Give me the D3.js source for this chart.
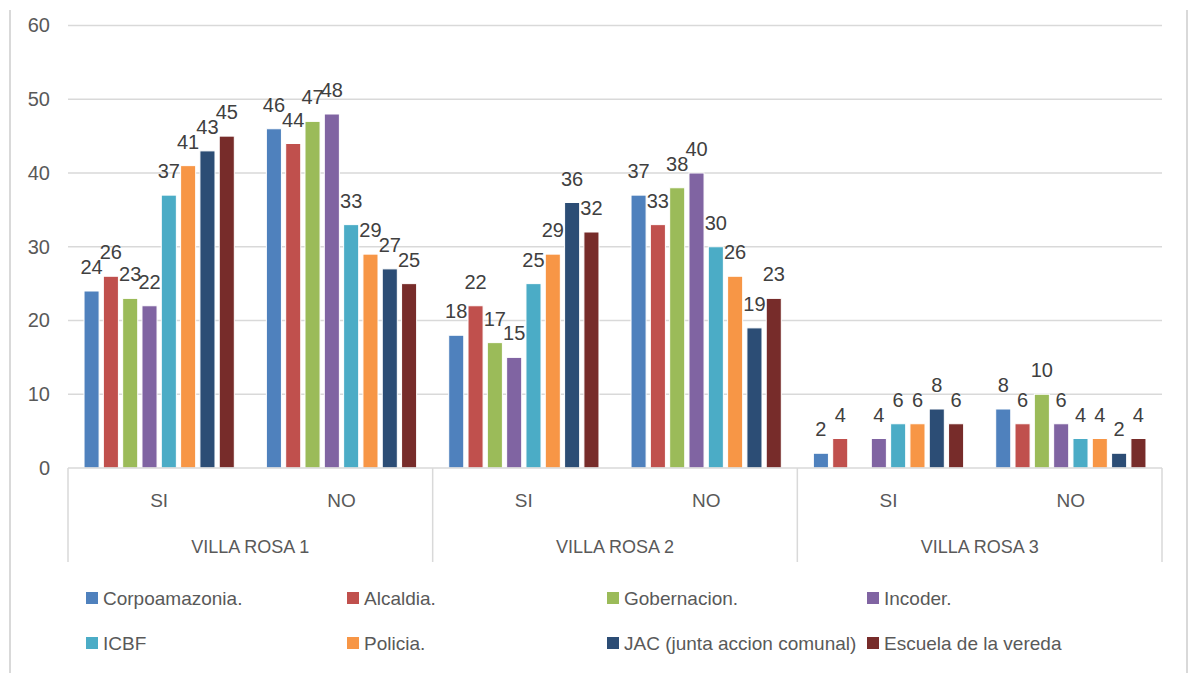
<!DOCTYPE html>
<html>
<head>
<meta charset="utf-8">
<script src="https://cdn.jsdelivr.net/npm/d3@7"></script>
<style>
  html, body { margin: 0; padding: 0; background: #ffffff; }
  svg { display: block; font-family: "Liberation Sans", Arial, sans-serif; }
</style>
</head>
<body>
<svg id="chart" width="1189" height="673"></svg>
<script>
// ---- data ----
const groups = ["VILLA ROSA 1", "VILLA ROSA 2", "VILLA ROSA 3"];
const answers = ["SI", "NO"];
const seriesNames = ["Corpoamazonia.", "Alcaldia.", "Gobernacion.", "Incoder.", "ICBF", "Policia.", "JAC (junta accion comunal)", "Escuela de la vereda"];
const seriesColors = ["#4F81BD", "#C0504D", "#9BBB59", "#8064A2", "#4BACC6", "#F79646", "#2C4D75", "#772C2A"];
// values per series, order: VR1 SI, VR1 NO, VR2 SI, VR2 NO, VR3 SI, VR3 NO
const corpoamazonia = [24, 46, 18, 37, 2, 8];
const alcaldia      = [26, 44, 22, 33, 4, 6];
const gobernacion   = [23, 47, 17, 38, 0, 10];
const incoder       = [22, 48, 15, 40, 4, 6];
const icbf          = [37, 33, 25, 30, 6, 4];
const policia       = [41, 29, 29, 26, 6, 4];
const jac           = [43, 27, 36, 19, 8, 2];
const escuela       = [45, 25, 32, 23, 6, 4];
const yTicks = [0, 10, 20, 30, 40, 50, 60];

const seriesValues = [corpoamazonia, alcaldia, gobernacion, incoder, icbf, policia, jac, escuela];

// ---- layout ----
const svg = d3.select("#chart");
const plot = { left: 68, right: 1162, top: 25.5, bottom: 468 };
const gridColor = "#d9d9d9";
const textColor = "#595959";

const y = d3.scaleLinear().domain([0, 60]).range([plot.bottom, plot.top]);

const cats = [];
groups.forEach(g => answers.forEach(a => cats.push(g + "|" + a)));

const xGroup = d3.scaleBand().domain(groups).range([plot.left, plot.right]).padding(0);
const xCat = d3.scaleBand().domain(cats).range([plot.left, plot.right]).padding(0);
const xSeries = d3.scaleBand().domain(seriesNames)
  .range([0, xCat.bandwidth()]).paddingInner(0.22).paddingOuter(0.83);

// outer frame (left/right)
svg.append("line").attr("x1", 10).attr("x2", 10).attr("y1", 10).attr("y2", 673)
  .attr("stroke", "#d9d9d9").attr("stroke-width", 2);
svg.append("line").attr("x1", 1187).attr("x2", 1187).attr("y1", 10).attr("y2", 673)
  .attr("stroke", "#d9d9d9").attr("stroke-width", 2);

// gridlines
svg.append("g").selectAll("line").data(yTicks.filter(d => d > 0)).join("line")
  .attr("x1", plot.left).attr("x2", plot.right)
  .attr("y1", d => y(d)).attr("y2", d => y(d))
  .attr("stroke", gridColor).attr("stroke-width", 1.5);

// y axis labels
const yAxis = d3.axisLeft(y).tickValues(yTicks).tickSize(0).tickPadding(0);
const yg = svg.append("g").attr("transform", `translate(50,0)`).call(yAxis);
yg.select(".domain").remove();
yg.selectAll("text").attr("fill", textColor).attr("font-size", 20)
  .attr("font-family", "'Liberation Sans', Arial, sans-serif");

// bars
const flat = [];
seriesValues.forEach((vals, si) => {
  vals.forEach((v, ci) => flat.push({ s: seriesNames[si], si, cat: cats[ci], v }));
});

svg.append("g").selectAll("rect").data(flat.filter(d => d.v > 0)).join("rect")
  .attr("x", d => xCat(d.cat) + xSeries(d.s))
  .attr("width", xSeries.bandwidth())
  .attr("y", d => y(d.v))
  .attr("height", d => y(0) - y(d.v))
  .attr("fill", d => seriesColors[d.si])
  .attr("stroke", "#ffffff").attr("stroke-width", 1);

// data labels
svg.append("g").selectAll("text").data(flat.filter(d => d.v > 0)).join("text")
  .attr("x", d => xCat(d.cat) + xSeries(d.s) + xSeries.bandwidth() / 2)
  .attr("y", d => y(d.v) - 24)
  .attr("text-anchor", "middle").attr("dominant-baseline", "central")
  .attr("font-size", 20).attr("fill", "#404040")
  .text(d => d.v);

// category axis line
svg.append("line").attr("x1", plot.left).attr("x2", plot.right)
  .attr("y1", plot.bottom).attr("y2", plot.bottom)
  .attr("stroke", gridColor).attr("stroke-width", 1.5);

// group separators
const seps = groups.map(g => xGroup(g)).concat([plot.right]);
svg.append("g").selectAll("line").data(seps).join("line")
  .attr("x1", d => d).attr("x2", d => d)
  .attr("y1", plot.bottom).attr("y2", 562)
  .attr("stroke", gridColor).attr("stroke-width", 1.5);

// SI/NO labels
svg.append("g").selectAll("text").data(cats).join("text")
  .attr("x", d => xCat(d) + xCat.bandwidth() / 2)
  .attr("y", 500)
  .attr("text-anchor", "middle").attr("dominant-baseline", "central")
  .attr("font-size", 19).attr("fill", textColor)
  .text(d => d.split("|")[1]);

// group labels
svg.append("g").selectAll("text").data(groups).join("text")
  .attr("x", d => xGroup(d) + xGroup.bandwidth() / 2)
  .attr("y", 547)
  .attr("text-anchor", "middle").attr("dominant-baseline", "central")
  .attr("font-size", 18).attr("fill", textColor)
  .text(d => d);

// legend
const legX = [86, 347, 607, 867];
const legY = [598, 643];
const leg = svg.append("g").selectAll("g").data(seriesNames).join("g")
  .attr("transform", (d, i) => `translate(${legX[i % 4]},${legY[Math.floor(i / 4)]})`);
leg.append("rect").attr("x", 0).attr("y", -6).attr("width", 12).attr("height", 12)
  .attr("fill", (d, i) => seriesColors[i]);
leg.append("text").attr("x", 17).attr("y", 0).attr("dominant-baseline", "central")
  .attr("font-size", 19).attr("fill", textColor)
  .text(d => d);
</script>
</body>
</html>
